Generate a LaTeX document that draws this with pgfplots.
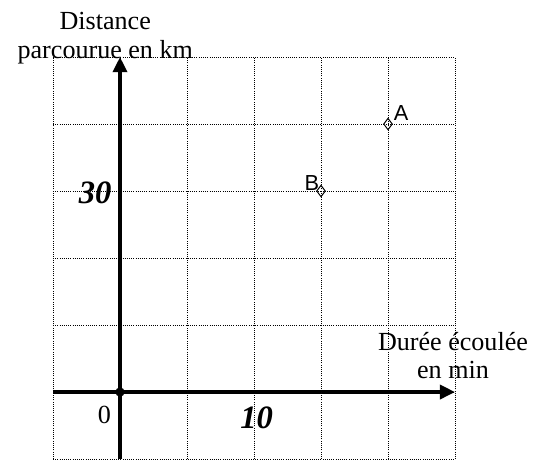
\documentclass[border=0pt]{standalone}
\usepackage{pgfplots}
\pgfplotsset{compat=1.18}
\usetikzlibrary{arrows.meta}
\usepackage{fontspec}
\setmainfont{Liberation Serif}
\newfontfamily\sans{Liberation Sans}
\begin{document}
\begin{tikzpicture}
\begin{axis}[
  scale only axis, width=184.92pt, height=184.92pt,
  xmin=-5, xmax=25, ymin=-10, ymax=50,
  axis line style={draw=none},
  xtick={-5,0,...,25}, ytick={-10,0,...,50},
  xticklabels={}, yticklabels={},
  major tick length=0pt,
  grid=major,
  grid style={black, dash pattern=on 0.45pt off 0.55pt, line width=0.45pt},
  clip=false,
  font=\fontsize{12}{14}\selectfont,
]
\path (axis cs:-8.955,58.51) rectangle (axis cs:31.79,-10.746);
\draw[line width=1.6pt, -{Triangle[length=7pt,width=6.5pt]}] (axis cs:-5,0) -- (axis cs:25,0);
\draw[line width=1.6pt, -{Triangle[length=7pt,width=6.5pt]}] (axis cs:0,-10) -- (axis cs:0,50);
\addplot[only marks, mark=*, mark size=1.9pt, black] coordinates {(0,0)};
\addplot[only marks, mark=diamond, mark size=2.6pt, mark options={fill=white, draw=black, line width=0.45pt}] coordinates {(20,40) (15,30)};
\node[anchor=base west, font=\sans\fontsize{10}{12}\selectfont, inner sep=0pt] at (axis cs:20.4,40.6) {A};
\node[anchor=base east, font=\sans\fontsize{10}{12}\selectfont, inner sep=0pt] at (axis cs:14.9,30.1) {B};
\node[anchor=base, inner sep=0pt] at (axis cs:-1.1,54.1) {Distance};
\node[anchor=base, inner sep=0pt] at (axis cs:-1.1,49.8) {parcourue en km};
\node[anchor=base, inner sep=0pt] at (axis cs:24.85,6.27) {Durée écoulée};
\node[anchor=base, inner sep=0pt] at (axis cs:24.85,2.09) {en min};
\node[anchor=base, inner sep=0pt] at (axis cs:-1.16,-4.63) {0};
\node[anchor=base east, inner sep=0pt, font=\fontsize{15}{17}\selectfont\bfseries\itshape] at (axis cs:-0.6,28.2) {30};
\node[anchor=base, inner sep=0pt, font=\fontsize{15}{17}\selectfont\bfseries\itshape] at (axis cs:10.2,-5.37) {10};
\end{axis}
\end{tikzpicture}
\end{document}
